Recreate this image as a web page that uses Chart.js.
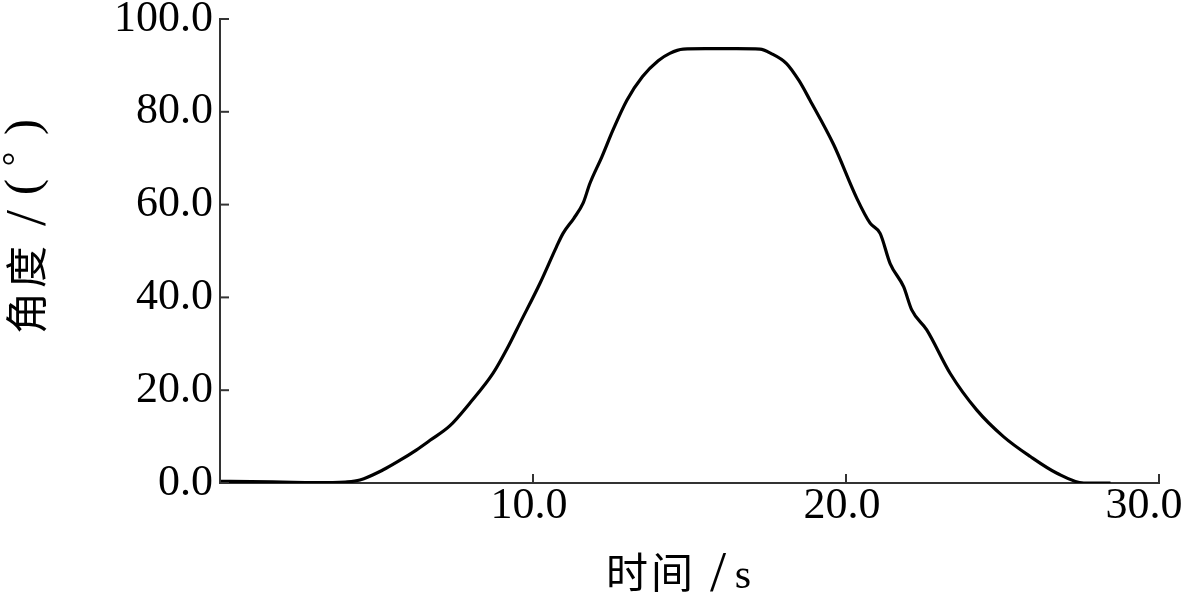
<!DOCTYPE html>
<html>
<head>
<meta charset="utf-8">
<script src="https://cdn.jsdelivr.net/npm/chart.js@4.4.1/dist/chart.umd.min.js"></script>
<style>
  html, body { margin: 0; padding: 0; background: #fff; }
  #wrap { width: 1200px; height: 600px; }
</style>
</head>
<body>
<div id="wrap"><canvas id="c" width="1200" height="600"></canvas></div>
<script>
// Time (s)
const timeS = [0, 1, 2, 3, 3.6, 4.0, 4.47, 5.2, 5.7, 6.27, 6.71, 7.34, 7.98, 8.72, 9.2, 9.58, 10.22, 10.75, 10.96, 11.3, 11.6, 11.82, 12.2, 12.55, 13.0, 13.5, 14.0, 14.37, 14.8, 15.5, 16.5, 17.25, 17.6, 18.1, 18.5, 18.85, 19.6, 20.35, 20.77, 21.09, 21.41, 21.84, 22.1, 22.58, 23.33, 24.18, 25.03, 25.89, 26.74, 27.6, 28.45];
// Angle (deg)
const angleDeg = [0.35, 0.3, 0.2, 0.1, 0.1, 0.2, 0.65, 2.8, 4.7, 7.1, 9.2, 12.3, 17.2, 23.6, 29.3, 34.4, 43.0, 50.9, 53.8, 57.0, 60.3, 64.6, 70.3, 76.0, 82.5, 87.6, 91.0, 92.6, 93.5, 93.6, 93.6, 93.5, 92.6, 90.4, 86.7, 82.5, 73.0, 61.3, 56.0, 53.8, 47.3, 42.3, 37.3, 33.0, 23.6, 15.7, 10.0, 5.7, 2.1, 0.0, 0.0];
const xTickValues = [0, 10, 20, 30];
const yTickValues = [0, 20, 40, 60, 80, 100];
// axis title pieces (text + font), placed one by one
const xTitleParts = ['时', '间', '/', 's'];
const yTitleParts = ['角', '度', '/', '(', '°', ')'];

const points = timeS.map((t, i) => ({ x: t, y: angleDeg[i] }));

const tickFont = { family: "'Liberation Serif', 'Times New Roman', serif", size: 44, lineHeight: 0.9 };
const CJK = "42px 'Noto Sans CJK SC'";
const SLASH = "58px 'Liberation Serif'";
const SERIF = "42px 'Liberation Serif'";
const PAREN = "48px 'Liberation Serif'";
const DEG = "36px 'Liberation Serif'";

const innerTicks = {
  id: 'innerTicks',
  afterDraw(chart) {
    const { ctx, scales: { x, y } } = chart;
    ctx.save();
    ctx.strokeStyle = '#333';
    ctx.lineWidth = 2;
    x.ticks.forEach(t => {
      const px = x.getPixelForValue(t.value);
      ctx.beginPath();
      ctx.moveTo(px, y.bottom);
      ctx.lineTo(px, y.bottom - 9);
      ctx.stroke();
    });
    y.ticks.forEach(t => {
      const py = y.getPixelForValue(t.value);
      ctx.beginPath();
      ctx.moveTo(x.left, py);
      ctx.lineTo(x.left + 9, py);
      ctx.stroke();
    });
    ctx.restore();
  }
};

const axisTitles = {
  id: 'axisTitles',
  afterDraw(chart) {
    const { ctx } = chart;
    ctx.save();
    ctx.fillStyle = '#000';
    ctx.textAlign = 'center';
    ctx.textBaseline = 'alphabetic';
    const xs = [[CJK, 627, 588], [CJK, 672, 588], [SLASH, 718, 591], [SERIF, 743, 588]];
    xTitleParts.forEach((t, i) => { ctx.font = xs[i][0]; ctx.fillText(t, xs[i][1], xs[i][2]); });
    ctx.rotate(-Math.PI / 2);
    // [font, centre y on canvas, baseline x on canvas]
    const ys = [[CJK, 313, 42], [CJK, 267, 42], [SLASH, 218, 45], [PAREN, 187, 38], [DEG, 159, 27], [PAREN, 127, 38]];
    yTitleParts.forEach((t, i) => { ctx.font = ys[i][0]; ctx.fillText(t, -ys[i][1], ys[i][2]); });
    ctx.restore();
  }
};

new Chart(document.getElementById('c'), {
  type: 'line',
  data: {
    datasets: [{
      data: points,
      borderColor: '#000',
      borderWidth: 3.2,
      pointRadius: 0,
      cubicInterpolationMode: 'monotone',
      fill: false
    }]
  },
  options: {
    responsive: false,
    animation: false,
    layout: { padding: { top: 19, right: 41, left: 0, bottom: 0 } },
    plugins: { legend: { display: false }, tooltip: { enabled: false } },
    scales: {
      x: {
        type: 'linear',
        min: 0, max: 30,
        afterBuildTicks(s) { s.ticks = xTickValues.map(v => ({ value: v })); },
        afterFit(s) { s.height = 117; s.paddingLeft = 0; s.paddingRight = 0; },
        ticks: {
          callback: v => v === 0 ? '' : (v === 30 ? v.toFixed(1) + '\u2002' : v.toFixed(1)),
          font: tickFont, color: '#000', padding: 4,
          maxRotation: 0, autoSkip: false, labelOffset: -4
        },
        grid: { drawOnChartArea: false, drawTicks: false },
        border: { display: true, color: '#333', width: 2 }
      },
      y: {
        min: 0, max: 100,
        afterBuildTicks(s) { s.ticks = yTickValues.map(v => ({ value: v })); },
        afterFit(s) { s.width = 220; s.paddingTop = 0; s.paddingBottom = 0; },
        ticks: {
          callback: v => v.toFixed(1),
          font: tickFont, color: '#000', padding: 7
        },
        grid: { drawOnChartArea: false, drawTicks: false },
        border: { display: true, color: '#333', width: 2 }
      }
    }
  },
  plugins: [innerTicks, axisTitles]
});
</script>
</body>
</html>
